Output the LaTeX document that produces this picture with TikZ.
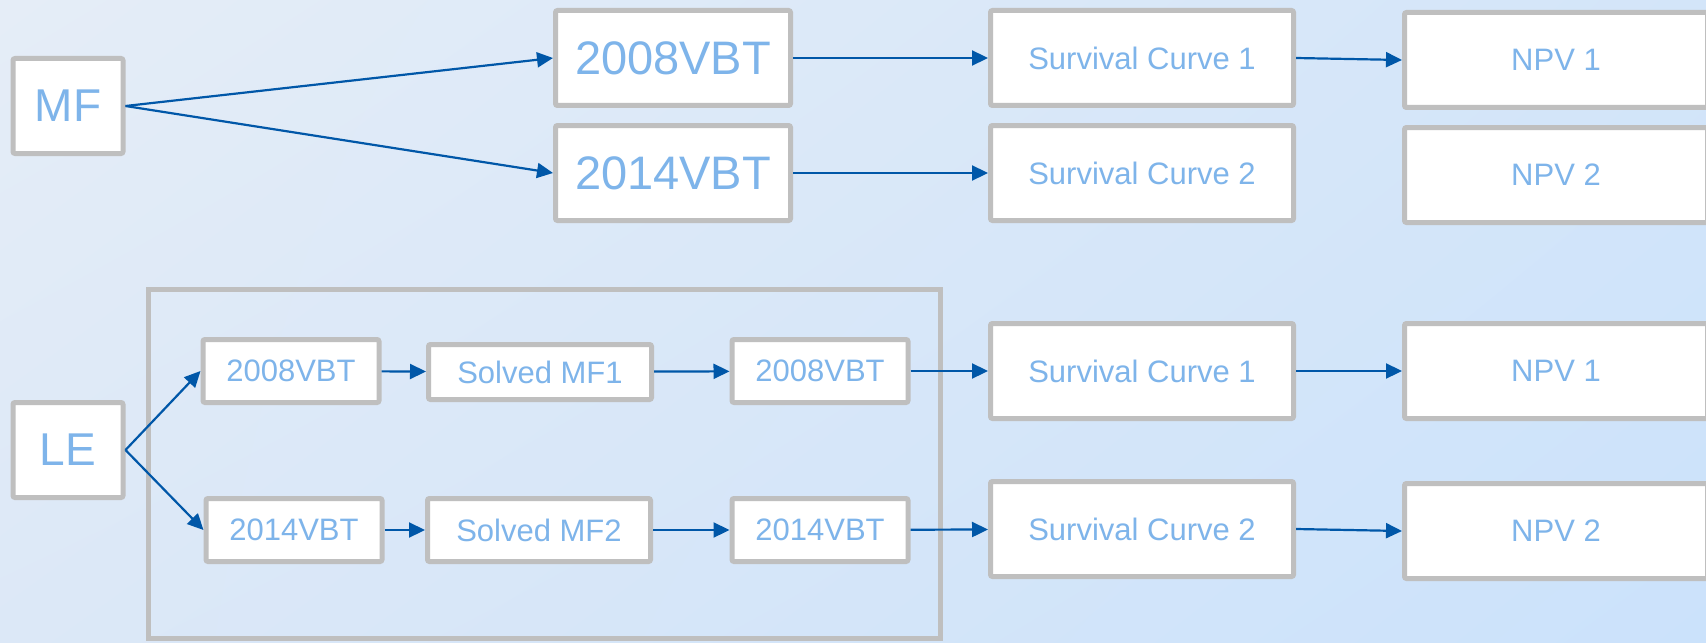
\documentclass[tikz,border=0pt]{standalone}
\usepackage{fontspec}
\setmainfont{Liberation Sans}
\usepackage{tikz}
\usetikzlibrary{arrows.meta, positioning, calc, shadings}
\definecolor{bgTL}     {RGB}{229,237,247}
\definecolor{bgTR}     {RGB}{211,229,249}
\definecolor{bgBL}     {RGB}{220,232,247}
\definecolor{bgBR}     {RGB}{203,226,251}
\definecolor{boxGray}  {RGB}{191,191,191}
\definecolor{txtBlue}  {RGB}{126,180,234}
\definecolor{arrowBlue}{RGB}{0,87,168}

\begin{document}
\begin{tikzpicture}[x=0.5pt, y=-0.5pt,
    box/.style={draw=boxGray, line width=2.5pt, fill=white, rounded corners=1pt,
                text=txtBlue, inner sep=0pt},
    bigbox/.style={box, minimum width=55pt, minimum height=47.5pt, font=\fontsize{23}{26}\selectfont},
    vbtbox/.style={box, minimum width=117.5pt, minimum height=47.5pt, font=\fontsize{23.5}{27}\selectfont},
    widebox/.style={box, minimum width=151.5pt, minimum height=47.5pt, font=\fontsize{15.5}{18}\selectfont},
    smallbox/.style={box, minimum width=88pt, minimum height=31.5pt, font=\fontsize{15.5}{18}\selectfont},
    solvedbox/.style={box, minimum width=111.5pt, minimum height=31.5pt, font=\fontsize{15.5}{18}\selectfont},
    flow/.style={draw=arrowBlue, line width=1.1pt, -{Triangle[length=8pt,width=7.5pt]}}]
    \useasboundingbox (0,0) rectangle (1706,642);
    \shade[upper left=bgTL, upper right=bgTR, lower left=bgBL, lower right=bgBR] (0,0) rectangle (1706,642);

    % upper chain
    \node[bigbox] (mf) at (68,106) {MF};
    \node[vbtbox] (vbtA) at (673,58) {2008VBT};
    \node[vbtbox] (vbtB) at (673,173) {2014VBT};
    \node[widebox] (scA) at (1142,58) {Survival Curve 1};
    \node[widebox] (scB) at (1142,173) {Survival Curve 2};
    \node[widebox] (npvA) at (1556,60) {NPV 1};
    \node[widebox] (npvB) at (1556,175) {NPV 2};

    \draw[flow] (mf.east) -- (vbtA.west);
    \draw[flow] (mf.east) -- (vbtB.west);
    \draw[flow] (vbtA) -- (scA);
    \draw[flow] (vbtB) -- (scB);
    \draw[flow] (scA.east) -- (npvA.west);

    % lower chain
    \draw[boxGray, line width=2.5pt] (148.5,289.5) rectangle (940.5,638.5);
    \node[bigbox] (le) at (68,450) {LE};
    \node[smallbox] (vbtC) at (291,371) {2008VBT};
    \node[solvedbox, minimum height=27.5pt] (solA) at (540,372) {Solved MF1};
    \node[smallbox] (vbtD) at (820,371) {2008VBT};
    \node[smallbox] (vbtE) at (294,530) {2014VBT};
    \node[solvedbox] (solB) at (539,530) {Solved MF2};
    \node[smallbox] (vbtF) at (820,530) {2014VBT};
    \node[widebox] (scC) at (1142,371) {Survival Curve 1};
    \node[widebox] (scD) at (1142,529) {Survival Curve 2};
    \node[widebox] (npvC) at (1556,371) {NPV 1};
    \node[widebox] (npvD) at (1556,531) {NPV 2};

    \draw[flow] (le.east) -- (vbtC.west);
    \draw[flow] (le.east) -- (vbtE.west);
    \draw[flow] (vbtC) -- (solA);
    \draw[flow] (solA) -- (vbtD);
    \draw[flow] (vbtE) -- (solB);
    \draw[flow] (solB) -- (vbtF);
    \draw[flow] (vbtD) -- (scC);
    \draw[flow] (vbtF) -- (scD);
    \draw[flow] (scC) -- (npvC);
    \draw[flow] (scD.east) -- (npvD.west);
\end{tikzpicture}
\end{document}
